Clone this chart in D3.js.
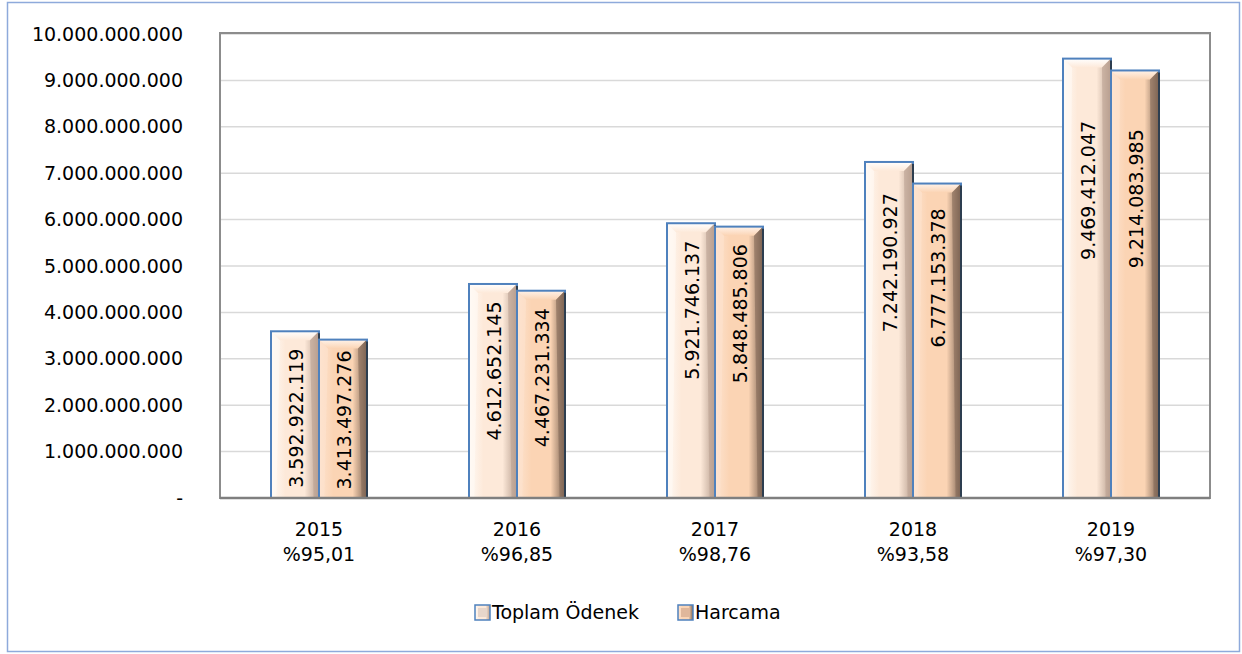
<!DOCTYPE html>
<html>
<head>
<meta charset="utf-8">
<script src="https://cdn.jsdelivr.net/npm/d3@7"></script>
<style>
  html, body { margin: 0; padding: 0; background: #fff; }
  svg { display: block; font-family: "DejaVu Sans", sans-serif; }
</style>
</head>
<body>
<svg id="chart" width="1242" height="654"></svg>
<script>
// Data.
const years = ['2015', '2016', '2017', '2018', '2019'];
const rates = ['%95,01', '%96,85', '%98,76', '%93,58', '%97,30'];
const series = ['Toplam Ödenek', 'Harcama'];
const toplamOdenek = [3592922119, 4612652145, 5921746137, 7242190927, 9469412047];
const harcama = [3413497276, 4467231334, 5848485806, 6777153378, 9214083985];
const yTicks = [0, 1e9, 2e9, 3e9, 4e9, 5e9, 6e9, 7e9, 8e9, 9e9, 10e9];

const svg = d3.select('#chart');
const fontSize = 19;

// Dimensions.
const plot = { left: 220, top: 34, right: 1210, bottom: 498 };

const fmt = v => v === 0 ? '-' : d3.format(',')(v).replace(/,/g, '.');

// Scales.
const x = d3.scaleBand().domain(years).range([plot.left, plot.right]).padding(0);
const xs = d3.scaleBand().domain(series)
  .range([x.bandwidth() / 2 - 48, x.bandwidth() / 2 + 48]).padding(0);
const y = d3.scaleLinear().domain([0, 10e9]).range([plot.bottom, plot.top]);

// Gradients.
const defs = svg.append('defs');
const palettes = {
  'Toplam Ödenek': { light: '#fffaf5', base: '#fde9d9', dark: '#b89f8f', top: '#ffffff', bottom: '#cdb6a6' },
  'Harcama': { light: '#fde3cf', base: '#fbd4b4', dark: '#7d6453', top: '#fff3ea', bottom: '#b89478' }
};
series.forEach((s, i) => {
  const p = palettes[s];
  const g = defs.append('linearGradient').attr('id', `body${i}`)
    .attr('x1', 0).attr('x2', 1).attr('y1', 0).attr('y2', 0);
  g.append('stop').attr('offset', '0%').attr('stop-color', p.light);
  g.append('stop').attr('offset', '30%').attr('stop-color', p.base);
  g.append('stop').attr('offset', '70%').attr('stop-color', p.base);
  g.append('stop').attr('offset', '100%').attr('stop-color', p.dark);
  const t = defs.append('linearGradient').attr('id', `top${i}`)
    .attr('x1', 0).attr('x2', 0).attr('y1', 0).attr('y2', 1);
  t.append('stop').attr('offset', '0%').attr('stop-color', p.top);
  t.append('stop').attr('offset', '100%').attr('stop-color', p.base);
});

// Outer frame.
svg.append('rect')
  .attr('x', 7.5).attr('y', 2.5).attr('width', 1232).attr('height', 649)
  .attr('fill', '#fff').attr('stroke', '#8eaadb').attr('stroke-width', 1.5);

// Gridlines.
svg.append('g')
  .selectAll('line')
  .data(yTicks.slice(1))
  .join('line')
  .attr('x1', plot.left).attr('x2', plot.right)
  .attr('y1', d => y(d)).attr('y2', d => y(d))
  .attr('stroke', '#d9d9d9').attr('stroke-width', 1.5);

// Plot area border.
svg.append('rect')
  .attr('x', plot.left).attr('y', plot.top - 1)
  .attr('width', plot.right - plot.left).attr('height', plot.bottom - plot.top + 1)
  .attr('fill', 'none').attr('stroke', '#8c8c8c').attr('stroke-width', 2);

// Y-Axis.
const yAxis = svg.append('g')
  .attr('transform', `translate(${plot.left},0)`)
  .call(d3.axisLeft(y).tickValues(yTicks).tickFormat(fmt).tickSize(0).tickPadding(37));
yAxis.select('.domain').remove();
yAxis.selectAll('text').attr('font-size', fontSize).attr('fill', '#000')
  .attr('font-family', '"DejaVu Sans", sans-serif');

// X-Axis labels (year + ratio).
const xLab = svg.append('g')
  .selectAll('text')
  .data(years)
  .join('text')
  .attr('x', d => x(d) + x.bandwidth() / 2)
  .attr('text-anchor', 'middle')
  .attr('font-size', fontSize)
  .attr('fill', '#000');
xLab.append('tspan').attr('x', d => x(d) + x.bandwidth() / 2).attr('y', 536).text(d => d);
xLab.append('tspan').attr('x', d => x(d) + x.bandwidth() / 2).attr('y', 561).text((d, i) => rates[i]);

// Bars.
const bevel = 9;
const drawBar = (g, bx, by, bw, bh, si) => {
  const p = palettes[series[si]];
  g.append('rect').attr('x', bx).attr('y', by).attr('width', bw).attr('height', bh)
    .attr('fill', `url(#body${si})`);
  // top bevel
  g.append('path')
    .attr('d', `M${bx},${by}L${bx + bw},${by}L${bx + bw - bevel},${by + bevel}L${bx + bevel},${by + bevel}Z`)
    .attr('fill', `url(#top${si})`);
  // right bevel
  g.append('path')
    .attr('d', `M${bx + bw},${by}L${bx + bw},${by + bh}L${bx + bw - bevel * 0.6},${by + bh}L${bx + bw - bevel},${by + bevel}Z`)
    .attr('fill', p.dark).attr('opacity', 0.55);
  // left bevel
  g.append('path')
    .attr('d', `M${bx},${by}L${bx + bevel},${by + bevel}L${bx + bevel * 0.6},${by + bh}L${bx},${by + bh}Z`)
    .attr('fill', p.light).attr('opacity', 0.6);
  g.append('rect').attr('x', bx).attr('y', by).attr('width', bw).attr('height', bh)
    .attr('fill', 'none').attr('stroke', '#4f81bd').attr('stroke-width', 2);
  g.append('line').attr('x1', bx + bw).attr('x2', bx + bw).attr('y1', by + 2).attr('y2', by + bh)
    .attr('stroke', '#2d3e50').attr('stroke-width', 2);
};

const values = [toplamOdenek, harcama];
const barsG = svg.append('g');
years.forEach((yr, i) => {
  series.forEach((s, si) => {
    const v = values[si][i];
    const bx = x(yr) + xs(s);
    const bw = xs.bandwidth();
    const by = y(v);
    drawBar(barsG, bx, by, bw, plot.bottom - by, si);
    // Label: sits under the top, or toward the middle of tall bars.
    const half = 70;
    let cy = Math.max(y(v * 0.7), by + 17 + half);
    cy = Math.min(cy, plot.bottom - 8 - half);
    barsG.append('text')
      .attr('transform', `translate(${bx + bw / 2 + 1},${cy}) rotate(-90)`)
      .attr('text-anchor', 'middle')
      .attr('dominant-baseline', 'central')
      .attr('font-size', fontSize)
      .attr('fill', '#000')
      .text(fmt(v));
  });
});

// Bottom axis line.
svg.append('line')
  .attr('x1', plot.left).attr('x2', plot.right)
  .attr('y1', plot.bottom).attr('y2', plot.bottom)
  .attr('stroke', '#7f7f7f').attr('stroke-width', 2.5);

// Legend.
const legend = svg.append('g').attr('transform', 'translate(475,612)');
const legendX = [0, 203];
series.forEach((s, si) => {
  const g = legend.append('g').attr('transform', `translate(${legendX[si]},0)`);
  g.append('rect').attr('x', 0).attr('y', -7).attr('width', 15).attr('height', 15)
    .attr('fill', `url(#body${si})`).attr('stroke', '#4f81bd').attr('stroke-width', 1.5);
  g.append('rect').attr('x', 3).attr('y', -4).attr('width', 9).attr('height', 9)
    .attr('fill', si === 0 ? '#e7d6cb' : '#e0b79b');
  g.append('text').attr('x', 17).attr('y', 0)
    .attr('dominant-baseline', 'central')
    .attr('font-size', fontSize).attr('fill', '#000')
    .text(s);
});
</script>
</body>
</html>
